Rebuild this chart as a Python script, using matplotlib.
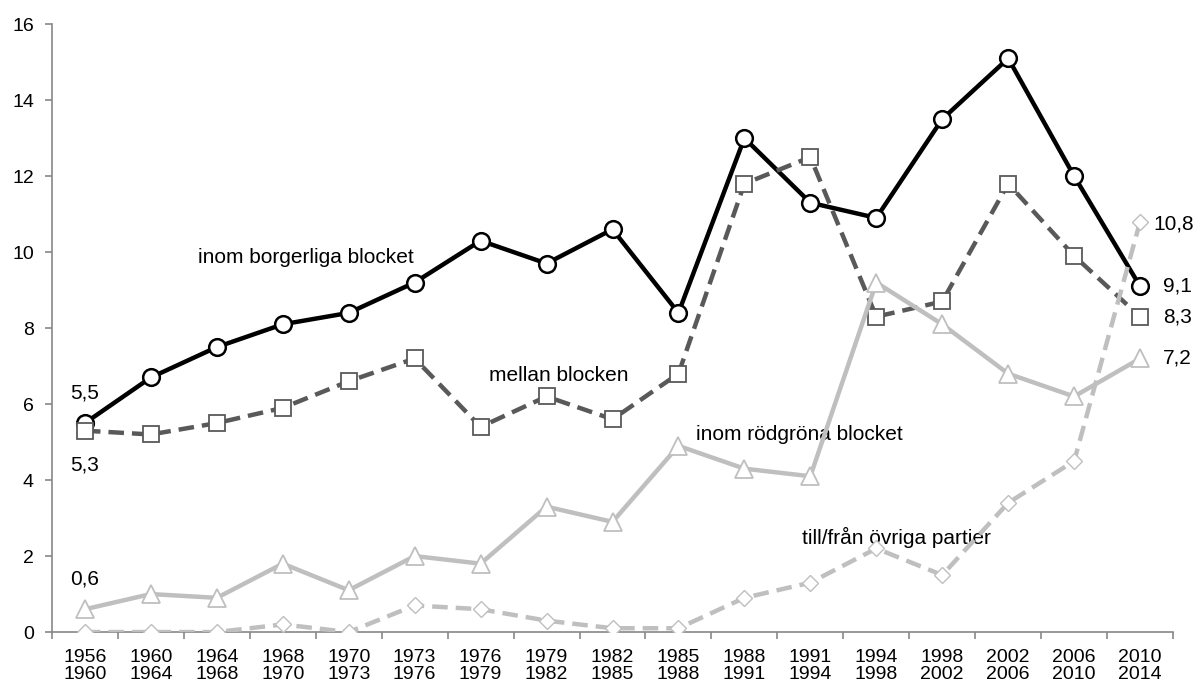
import matplotlib
matplotlib.use("Agg")
from matplotlib import pyplot as plt
import numpy as np

plt.rcParams['font.family'] = ['Liberation Sans', 'DejaVu Sans']

# category labels (two-line periods)
periods = ["1956\n1960", "1960\n1964", "1964\n1968", "1968\n1970", "1970\n1973",
           "1973\n1976", "1976\n1979", "1979\n1982", "1982\n1985", "1985\n1988",
           "1988\n1991", "1991\n1994", "1994\n1998", "1998\n2002", "2002\n2006",
           "2006\n2010", "2010\n2014"]

borgerliga = [5.5, 6.7, 7.5, 8.1, 8.4, 9.2, 10.3, 9.7, 10.6, 8.4,
              13.0, 11.3, 10.9, 13.5, 15.1, 12.0, 9.1]
mellan = [5.3, 5.2, 5.5, 5.9, 6.6, 7.2, 5.4, 6.2, 5.6, 6.8,
          11.8, 12.5, 8.3, 8.7, 11.8, 9.9, 8.3]
rodgrona = [0.6, 1.0, 0.9, 1.8, 1.1, 2.0, 1.8, 3.3, 2.9, 4.9,
            4.3, 4.1, 9.2, 8.1, 6.8, 6.2, 7.2]
ovriga = [0.0, 0.0, 0.0, 0.2, 0.0, 0.7, 0.6, 0.3, 0.1, 0.1,
          0.9, 1.3, 2.2, 1.5, 3.4, 4.5, 10.8]

fig = plt.figure(figsize=(11.97, 6.9), dpi=100)
ax = fig.add_axes([0.0434, 0.084, 0.9366, 0.881])

x = np.arange(len(periods))
dark = '#595959'
light = '#bfbfbf'
fs = 14
fs_lab = 15

ax.plot(x, borgerliga, color='black', lw=3.2, marker='o', ms=12,
        mfc='white', mec='black', mew=1.8, zorder=3)
ax.plot(x, mellan, color=dark, lw=3.2, dashes=(3.5, 1.8), marker='s', ms=11,
        mfc='white', mec=dark, mew=1.3, zorder=4)
ax.plot(x, rodgrona, color=light, lw=3.2, marker='^', ms=13,
        mfc='white', mec=light, mew=1.3, zorder=5)
ax.plot(x, ovriga, color=light, lw=3.2, dashes=(3.5, 1.8), marker='D', ms=8,
        mfc='white', mec=light, mew=1.0, zorder=6)

ax.set_xlim(-0.5, len(periods) - 0.5)
ax.set_ylim(0, 16)
ax.set_yticks(np.arange(0, 17, 2))

# category labels in the middle, tick marks between categories
ax.set_xticks(x)
ax.set_xticklabels(periods, fontsize=fs, linespacing=1.05)
ax.set_xticks(np.arange(-0.5, len(periods)), minor=True)
ax.tick_params(axis='x', which='major', length=0, pad=12)
ax.tick_params(axis='x', which='minor', length=5, color='#888888', width=1.2)
ax.tick_params(axis='y', which='major', length=5, color='#888888', width=1.2,
               labelsize=fs, pad=8)

for s in ['top', 'right']:
    ax.spines[s].set_visible(False)
for s in ['left', 'bottom']:
    ax.spines[s].set_color('#888888')
    ax.spines[s].set_linewidth(1.2)

# series labels
ax.text(1.72, 9.87, "inom borgerliga blocket", fontsize=fs_lab, va='center')
ax.text(6.12, 6.76, "mellan blocken", fontsize=fs_lab, va='center')
ax.text(9.26, 5.2, "inom rödgröna blocket", fontsize=fs_lab, va='center')
ax.text(10.88, 2.49, "till/från övriga partier", fontsize=fs_lab, va='center')

# value labels
ax.text(0, 6.28, "5,5", fontsize=fs_lab, ha='center', va='center')
ax.text(0, 4.4, "5,3", fontsize=fs_lab, ha='center', va='center')
ax.text(0, 1.39, "0,6", fontsize=fs_lab, ha='center', va='center')
ax.text(16.2, 10.75, "10,8", fontsize=fs_lab, ha='left', va='center')
ax.text(16.35, 9.1, "9,1", fontsize=fs_lab, ha='left', va='center')
ax.text(16.35, 8.3, "8,3", fontsize=fs_lab, ha='left', va='center')
ax.text(16.35, 7.2, "7,2", fontsize=fs_lab, ha='left', va='center')

fig.savefig("out.png", dpi=100)
